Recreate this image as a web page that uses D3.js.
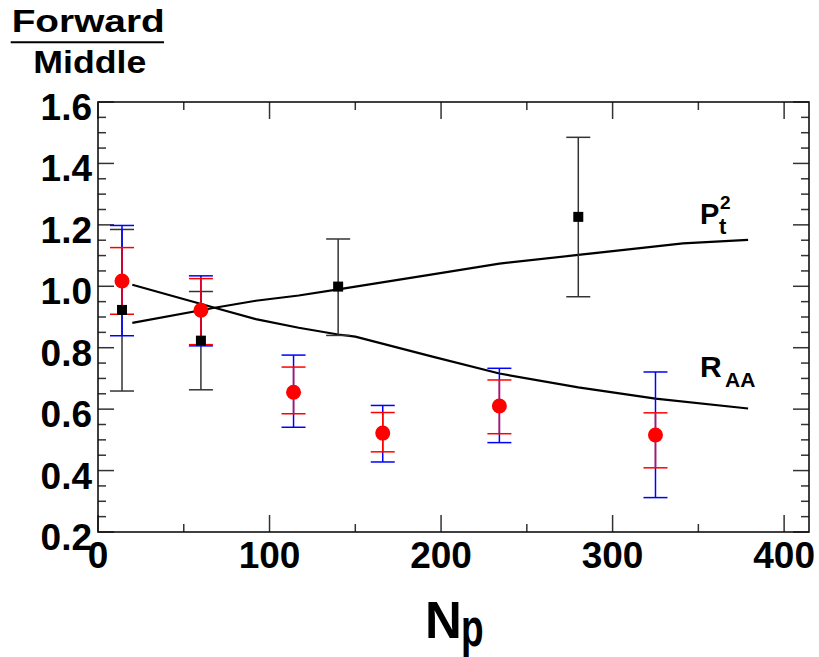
<!DOCTYPE html>
<html>
<head>
<meta charset="utf-8">
<script src="https://cdn.jsdelivr.net/npm/d3@7"></script>
<style>
  body { margin: 0; background: #fff; }
  text { font-family: "Liberation Sans", Arial, sans-serif; font-weight: bold; }
</style>
</head>
<body>
<div id="chart"></div>
<script>
// red points (with two sets of error bars)
var redNp = [14, 60, 114, 166, 234, 325];
var redVal = [1.017, 0.922, 0.655, 0.522, 0.610, 0.516];
var redHi = [1.126, 1.025, 0.737, 0.589, 0.695, 0.588];
var redLo = [0.909, 0.810, 0.585, 0.461, 0.520, 0.409];
var blueHi = [1.198, 1.034, 0.776, 0.612, 0.733, 0.721];
var blueLo = [0.839, 0.806, 0.541, 0.428, 0.491, 0.312];

// black squares
var blkNp = [14, 60, 140, 280];
var blkVal = [0.923, 0.823, 0.999, 1.226];
var blkHi = [1.185, 0.983, 1.154, 1.485];
var blkLo = [0.659, 0.663, 0.840, 0.966];

// model curves
var ptNp = [20, 68, 92, 117, 140, 195, 234, 280, 312, 341, 379];
var ptVal = [0.881, 0.930, 0.953, 0.970, 0.990, 1.039, 1.074, 1.102, 1.122, 1.140, 1.151];
var raaNp = [20, 68, 92, 117, 140, 150, 195, 234, 280, 325, 379];
var raaVal = [1.005, 0.930, 0.893, 0.865, 0.843, 0.836, 0.771, 0.716, 0.671, 0.634, 0.602];

var xTicks = [0, 100, 200, 300, 400];
var yTicks = [0.2, 0.4, 0.6, 0.8, 1.0, 1.2, 1.4, 1.6];

let width = 819;
let height = 657;
let mLeft = 98, mRight = 809, mTop = 102, mBottom = 532;

var svg = d3.select("#chart").append("svg")
    .attr("width", width)
    .attr("height", height);

var x = d3.scaleLinear().domain([0, 414.5]).range([mLeft, mRight]);
var y = d3.scaleLinear().domain([0.2, 1.6]).range([mBottom, mTop]);

var axisColor = "#333";

// minor / major ticks, drawn on all four sides pointing inward
var tickG = svg.append("g").attr("stroke", axisColor).attr("stroke-width", 1.5);

for (let i = 0; i <= 8; ++i) {
    let v = i * 50;
    let len = (i % 2 == 0) ? 17 : 8;
    tickG.append("line").attr("x1", x(v)).attr("x2", x(v)).attr("y1", mBottom).attr("y2", mBottom - len);
    tickG.append("line").attr("x1", x(v)).attr("x2", x(v)).attr("y1", mTop).attr("y2", mTop + len);
}
for (let i = 0; i <= 28; ++i) {
    let v = 0.2 + i * 0.05;
    let len = (i % 4 == 0) ? 16 : 8;
    tickG.append("line").attr("x1", mLeft).attr("x2", mLeft + len).attr("y1", y(v)).attr("y2", y(v));
    tickG.append("line").attr("x1", mRight).attr("x2", mRight - len).attr("y1", y(v)).attr("y2", y(v));
}

// frame
svg.append("rect")
    .attr("x", mLeft).attr("y", mTop)
    .attr("width", mRight - mLeft).attr("height", mBottom - mTop)
    .attr("fill", "none")
    .attr("stroke", "#111")
    .attr("stroke-width", 1.6);

// tick labels
svg.selectAll(".xlab")
    .data(xTicks)
    .enter().append("text")
    .attr("x", d => x(d))
    .attr("y", mBottom + 36)
    .attr("text-anchor", "middle")
    .style("font-size", "37px")
    .text(d => d);

svg.selectAll(".ylab")
    .data(yTicks)
    .enter().append("text")
    .attr("x", 92)
    .attr("y", d => y(d) + 18)
    .attr("text-anchor", "end")
    .style("font-size", "37px")
    .text(d => d.toFixed(1));

// curves
var line = d3.line().x(d => x(d[0])).y(d => y(d[1]));
svg.append("path")
    .attr("d", line(d3.zip(ptNp, ptVal)))
    .attr("fill", "none").attr("stroke", "#000").attr("stroke-width", 2.2);
svg.append("path")
    .attr("d", line(d3.zip(raaNp, raaVal)))
    .attr("fill", "none").attr("stroke", "#000").attr("stroke-width", 2.2);

// error bars
var cap = 12;
function errBar(g, xs, lo, hi, color) {
    for (let i = 0; i < xs.length; ++i) {
        let px = x(xs[i]);
        g.append("line").attr("x1", px).attr("x2", px).attr("y1", y(lo[i])).attr("y2", y(hi[i]))
            .attr("stroke", color).attr("stroke-width", 1.5);
        g.append("line").attr("x1", px - cap).attr("x2", px + cap).attr("y1", y(lo[i])).attr("y2", y(lo[i]))
            .attr("stroke", color).attr("stroke-width", 1.5);
        g.append("line").attr("x1", px - cap).attr("x2", px + cap).attr("y1", y(hi[i])).attr("y2", y(hi[i]))
            .attr("stroke", color).attr("stroke-width", 1.5);
    }
}
var errG = svg.append("g");
errBar(errG, blkNp, blkLo, blkHi, "#333");
errBar(errG, redNp, blueLo, blueHi, "#0000ff");
errBar(errG, redNp, redLo, redHi, "#ff0000");

svg.selectAll(".circ")
    .data(d3.zip(redNp, redVal))
    .enter().append("circle")
    .attr("cx", d => x(d[0]))
    .attr("cy", d => y(d[1]))
    .attr("r", 7.5)
    .attr("fill", "#ff0000");

svg.selectAll(".sq")
    .data(d3.zip(blkNp, blkVal))
    .enter().append("rect")
    .attr("x", d => x(d[0]) - 5)
    .attr("y", d => y(d[1]) - 5)
    .attr("width", 10).attr("height", 10)
    .attr("fill", "#000");

// curve labels
svg.append("text").attr("x", 700).attr("y", 224).style("font-size", "29px").text("P");
svg.append("text").attr("x", 720).attr("y", 209).style("font-size", "19px").text("2");
svg.append("text").attr("x", 719).attr("y", 234).style("font-size", "22px").text("t");
svg.append("text").attr("x", 700).attr("y", 377).style("font-size", "30px").text("R");
svg.append("text").attr("x", 725).attr("y", 387).style("font-size", "21px").text("AA");

// y title (fraction)
svg.append("text").attr("x", 11.7).attr("y", 32)
    .attr("textLength", 153).attr("lengthAdjust", "spacingAndGlyphs")
    .style("font-size", "31px").text("Forward");
svg.append("line").attr("x1", 10.7).attr("x2", 164).attr("y1", 42.3).attr("y2", 42.3)
    .attr("stroke", "#000").attr("stroke-width", 2);
svg.append("text").attr("x", 33.3).attr("y", 73)
    .attr("textLength", 113).attr("lengthAdjust", "spacingAndGlyphs")
    .style("font-size", "32px").text("Middle");

// x title
svg.append("text").attr("x", 425).attr("y", 638).style("font-size", "51px").text("N");
svg.append("text").attr("transform", "translate(461,646) scale(1,1.45)")
    .style("font-size", "37px").text("p");
</script>
</body>
</html>
